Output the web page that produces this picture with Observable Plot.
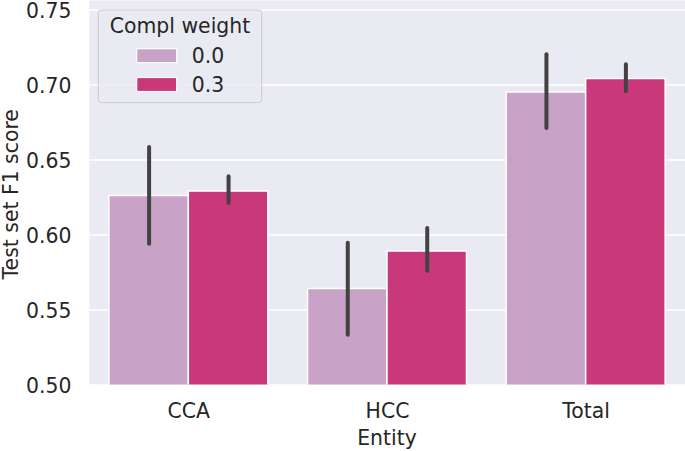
<!DOCTYPE html>
<html>
<head>
<meta charset="utf-8">
<script src="https://cdn.jsdelivr.net/npm/d3@7"></script>
<script src="https://cdn.jsdelivr.net/npm/@observablehq/plot@0.6"></script>
<style>
  html, body { margin: 0; padding: 0; background: #ffffff; }
  #chart svg { display: block; }
</style>
</head>
<body>
<div id="chart"></div>
<script>
// ---- data ----
const categories = ["CCA", "HCC", "Total"];
const weights = ["0.0", "0.3"];
const meanW00 = [0.626, 0.564, 0.695];
const meanW03 = [0.629, 0.589, 0.704];
const lowW00  = [0.5939, 0.5332, 0.6710];
const highW00 = [0.6583, 0.5945, 0.7201];
const lowW03  = [0.6210, 0.5759, 0.6955];
const highW03 = [0.6388, 0.6043, 0.7135];
const yTicks = [0.50, 0.55, 0.60, 0.65, 0.70, 0.75];

const colors = ["#C8A3C7", "#C8387A"];
const font = "DejaVu Sans, sans-serif";
const fs = 20.4;
const textColor = "#262626";

// build table
const rows = [];
categories.forEach((c, i) => {
  rows.push({cat: c, i, w: weights[0], j: 0, mean: meanW00[i], lo: lowW00[i], hi: highW00[i]});
  rows.push({cat: c, i, w: weights[1], j: 1, mean: meanW03[i], lo: lowW03[i], hi: highW03[i]});
});
const groupWidth = 0.8;
const barW = groupWidth / weights.length;
rows.forEach(r => {
  r.x1 = r.i - groupWidth / 2 + r.j * barW;
  r.x2 = r.x1 + barW;
  r.xc = (r.x1 + r.x2) / 2;
});

const W = 685, H = 451;
const mL = 89, mB = 66.5, mT = 0, mR = 0;
const pxPerUnit = 1500;
const yMin = 0.5, yMax = yMin + (H - mB - mT) / pxPerUnit;

const plot = Plot.plot({
  width: W,
  height: H,
  marginLeft: mL,
  marginRight: mR,
  marginTop: mT,
  marginBottom: mB,
  style: {fontFamily: font, fontSize: fs + "px", color: textColor, background: "#ffffff", overflow: "visible"},
  x: {type: "linear", domain: [-0.5, categories.length - 0.5], axis: null},
  y: {domain: [yMin, yMax], axis: null},
  color: {domain: weights, range: colors},
  marks: [
    Plot.frame({fill: "#EAEAF2", stroke: null}),
    Plot.ruleY(yTicks, {stroke: "#ffffff", strokeWidth: 1.4}),
    Plot.rectY(rows, {x1: "x1", x2: "x2", y1: 0, y2: "mean", fill: "w", stroke: "#ffffff", strokeWidth: 1.5, clip: true}),
    Plot.ruleX(rows, {x: "xc", y1: "lo", y2: "hi", stroke: "#424242", strokeWidth: 4, strokeLinecap: "round"}),
    Plot.axisY(yTicks, {tickSize: 0, tickPadding: 18, tickFormat: d3.format(".2f"), label: null, fontSize: fs, fill: textColor, dy: 1.5}),
    Plot.axisX(categories.map((c, i) => i), {tickSize: 0, tickPadding: 18.5, tickFormat: i => categories[i], label: null, fontSize: fs, fill: textColor})
  ]
});

document.getElementById("chart").appendChild(plot);

const svg = d3.select(plot);

// axis labels
svg.append("text")
  .attr("x", mL + (W - mL - mR) / 2)
  .attr("y", 445)
  .attr("text-anchor", "middle")
  .attr("font-family", font)
  .attr("font-size", fs)
  .attr("fill", textColor)
  .text("Entity");

svg.append("text")
  .attr("transform", `translate(17.5, ${(H - mB + mT) / 2 + 2}) rotate(-90)`)
  .attr("text-anchor", "middle")
  .attr("font-family", font)
  .attr("font-size", fs)
  .attr("fill", textColor)
  .text("Test set F1 score");

// legend
const lg = svg.append("g");
lg.append("rect")
  .attr("x", 98.3).attr("y", 10)
  .attr("width", 163.4).attr("height", 92.7)
  .attr("rx", 3)
  .attr("fill", "#EAEAF2").attr("fill-opacity", 0.8)
  .attr("stroke", "#CCCCCC").attr("stroke-width", 1);
lg.append("text")
  .attr("x", 180).attr("y", 33.3)
  .attr("text-anchor", "middle")
  .attr("font-family", font).attr("font-size", fs).attr("fill", textColor)
  .text("Compl weight");
weights.forEach((w, k) => {
  const top = 48.7 + k * 28.8;
  lg.append("rect")
    .attr("x", 136.7).attr("y", top)
    .attr("width", 40).attr("height", 14)
    .attr("fill", colors[k]).attr("stroke", "#ffffff").attr("stroke-width", 1.2);
  lg.append("text")
    .attr("x", 191.7).attr("y", top + 14)
    .attr("text-anchor", "start")
    .attr("font-family", font).attr("font-size", fs).attr("fill", textColor)
    .text(w);
});
</script>
</body>
</html>
